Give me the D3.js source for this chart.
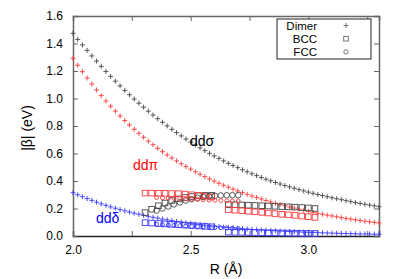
<!DOCTYPE html>
<html>
<head>
<meta charset="utf-8">
<script src="https://cdn.jsdelivr.net/npm/d3@7"></script>
<style>
  body { margin: 0; background: #fff; }
  svg { display: block; font-family: "Liberation Sans", Arial, sans-serif; }
</style>
</head>
<body>
<svg id="chart" width="399" height="279"></svg>
<script>
// dimer curves, step 0.02 A
const dimerR = [2.00, 2.02, 2.04, 2.06, 2.08, 2.10, 2.12, 2.14, 2.16, 2.18,
  2.20, 2.22, 2.24, 2.26, 2.28, 2.30, 2.32, 2.34, 2.36, 2.38,
  2.40, 2.42, 2.44, 2.46, 2.48, 2.50, 2.52, 2.54, 2.56, 2.58,
  2.60, 2.62, 2.64, 2.66, 2.68, 2.70, 2.72, 2.74, 2.76, 2.78,
  2.80, 2.82, 2.84, 2.86, 2.88, 2.90, 2.92, 2.94, 2.96, 2.98,
  3.00, 3.02, 3.04, 3.06, 3.08, 3.10, 3.12, 3.14, 3.16, 3.18,
  3.20, 3.22, 3.24, 3.26, 3.28, 3.30];
const dimerSigma = [1.474, 1.430, 1.390, 1.350, 1.310, 1.272, 1.234, 1.197, 1.161, 1.126,
  1.092, 1.059, 1.027, 0.996, 0.966, 0.937, 0.908, 0.880, 0.853, 0.827,
  0.801, 0.776, 0.752, 0.728, 0.705, 0.683, 0.662, 0.641, 0.621, 0.601,
  0.582, 0.564, 0.546, 0.529, 0.513, 0.497, 0.482, 0.467, 0.453, 0.439,
  0.426, 0.413, 0.401, 0.389, 0.378, 0.367, 0.357, 0.347, 0.337, 0.328,
  0.319, 0.310, 0.302, 0.294, 0.286, 0.278, 0.271, 0.264, 0.257, 0.250,
  0.243, 0.237, 0.231, 0.225, 0.219, 0.213];
const dimerPi = [1.292, 1.242, 1.195, 1.149, 1.105, 1.062, 1.021, 0.982, 0.944, 0.908,
  0.873, 0.840, 0.807, 0.776, 0.747, 0.718, 0.690, 0.664, 0.638, 0.613,
  0.590, 0.567, 0.546, 0.525, 0.505, 0.486, 0.467, 0.449, 0.432, 0.415,
  0.399, 0.384, 0.369, 0.355, 0.341, 0.328, 0.315, 0.303, 0.291, 0.280,
  0.269, 0.258, 0.248, 0.238, 0.229, 0.220, 0.211, 0.203, 0.195, 0.187,
  0.179, 0.172, 0.165, 0.158, 0.152, 0.146, 0.140, 0.134, 0.128, 0.123,
  0.118, 0.113, 0.108, 0.103, 0.099, 0.095];
const dimerDelta = [0.315, 0.300, 0.286, 0.272, 0.259, 0.246, 0.234, 0.223, 0.212, 0.202,
  0.192, 0.183, 0.174, 0.166, 0.158, 0.150, 0.143, 0.136, 0.130, 0.123,
  0.117, 0.112, 0.106, 0.101, 0.096, 0.092, 0.087, 0.083, 0.079, 0.075,
  0.072, 0.068, 0.065, 0.062, 0.059, 0.056, 0.053, 0.051, 0.048, 0.046,
  0.044, 0.042, 0.040, 0.038, 0.036, 0.034, 0.033, 0.031, 0.030, 0.028,
  0.027, 0.026, 0.024, 0.023, 0.022, 0.021, 0.020, 0.019, 0.018, 0.017,
  0.016, 0.015, 0.015, 0.014, 0.013, 0.013];

// BCC
const bccR = [2.306, 2.334, 2.363, 2.391, 2.419, 2.448, 2.476, 2.504, 2.533, 2.561, 2.589,
  2.660, 2.688, 2.717, 2.745, 2.773, 2.802, 2.830, 2.858, 2.887, 2.915, 2.943, 2.972, 3.000, 3.028];
const bccSigma = [0.170, 0.195, 0.220, 0.240, 0.258, 0.270, 0.280, 0.287, 0.292, 0.295, 0.296,
  0.228, 0.227, 0.226, 0.224, 0.222, 0.220, 0.218, 0.216, 0.214, 0.212, 0.210, 0.207, 0.204, 0.200];
const bccPi = [0.312, 0.312, 0.311, 0.310, 0.309, 0.308, 0.305, 0.300, 0.295, 0.290, 0.284,
  0.192, 0.188, 0.184, 0.180, 0.176, 0.172, 0.167, 0.163, 0.158, 0.154, 0.150, 0.145, 0.140, 0.135];
const bccDelta = [0.097, 0.094, 0.091, 0.088, 0.085, 0.082, 0.079, 0.076, 0.073, 0.070, 0.067,
  0.028, 0.027, 0.027, 0.026, 0.025, 0.024, 0.023, 0.023, 0.022, 0.021, 0.020, 0.019, 0.019, 0.018];

// FCC
const fccR = [2.355, 2.380, 2.405, 2.429, 2.454, 2.479, 2.504, 2.529, 2.553, 2.578,
  2.603, 2.628, 2.653, 2.677, 2.702];
const fccSigma = [0.185, 0.200, 0.215, 0.230, 0.245, 0.258, 0.268, 0.277, 0.284, 0.289,
  0.293, 0.295, 0.296, 0.297, 0.297];
const fccPi = [0.280, 0.278, 0.276, 0.274, 0.272, 0.270, 0.268, 0.266, 0.264, 0.262,
  0.260, 0.258, 0.256, 0.254, 0.252];
const fccDelta = [0.085, 0.082, 0.079, 0.077, 0.075, 0.072, 0.070, 0.068, 0.066, 0.064,
  0.062, 0.060, 0.058, 0.056, 0.054];

const xTicks = [2.0, 2.25, 2.5, 2.75, 3.0, 3.25];
const xLabels = [2.0, 2.5, 3.0];
const yTicks = [0, 0.2, 0.4, 0.6, 0.8, 1.0, 1.2, 1.4, 1.6];

const colBlack = "#474747", colRed = "#ff3a3a", colBlue = "#3a3aff";

const svg = d3.select("#chart");
const m = { left: 73, right: 379, top: 16, bottom: 236 };

const x = d3.scaleLinear().domain([2.0, 3.3]).range([m.left, m.right]);
const y = d3.scaleLinear().domain([0, 1.6]).range([m.bottom, m.top]);

// axes, ticks pointing inward
const fmt = d => xLabels.some(v => Math.abs(v - d) < 1e-9) ? d.toFixed(1) : "";
const gx = svg.append("g").attr("transform", `translate(0,${m.bottom})`)
  .call(d3.axisBottom(x).tickValues(xTicks).tickSize(-5).tickPadding(9).tickFormat(fmt));
const gxt = svg.append("g").attr("transform", `translate(0,${m.top})`)
  .call(d3.axisTop(x).tickValues(xTicks).tickSize(-5).tickFormat(""));
const gy = svg.append("g").attr("transform", `translate(${m.left},0)`)
  .call(d3.axisLeft(y).tickValues(yTicks).tickSize(-5).tickPadding(10).tickFormat(d3.format(".1f")));
const gyr = svg.append("g").attr("transform", `translate(${m.right},0)`)
  .call(d3.axisRight(y).tickValues(yTicks).tickSize(-5).tickFormat(""));

[gx, gxt, gy, gyr].forEach(g => {
  g.select(".domain").attr("stroke", "#666").attr("stroke-width", 1.5);
  g.selectAll(".tick line").attr("stroke", "#666");
  g.selectAll("text").attr("font-size", 12).attr("fill", "#000")
    .attr("font-family", "Liberation Sans, Arial, sans-serif");
});
gx.select(".domain").attr("stroke", "#222");

svg.append("text")
  .attr("x", (m.left + m.right) / 2).attr("y", 274)
  .attr("text-anchor", "middle").attr("font-size", 14)
  .text("R (Å)");

svg.append("text")
  .attr("transform", `translate(32,${(m.top + m.bottom) / 2 + 2}) rotate(-90)`)
  .attr("text-anchor", "middle").attr("font-size", 14)
  .text("|β| (eV)");

const plot = svg.append("g");

function plus(data, rs, color) {
  plot.append("g").selectAll("path")
    .data(data.map((v, i) => [rs[i], v]))
    .join("path")
    .attr("transform", d => `translate(${x(d[0])},${y(d[1])})`)
    .attr("d", "M-2.5,0H2.5M0,-2.5V2.5")
    .attr("stroke", color).attr("stroke-width", 0.9).attr("fill", "none");
}

function squares(data, rs, color) {
  plot.append("g").selectAll("rect")
    .data(data.map((v, i) => [rs[i], v]))
    .join("rect")
    .attr("x", d => x(d[0]) - 2.8).attr("y", d => y(d[1]) - 2.8)
    .attr("width", 5.6).attr("height", 5.6)
    .attr("stroke", color).attr("stroke-width", 0.9).attr("fill", "none");
}

function circles(data, rs, color, r) {
  plot.append("g").selectAll("circle")
    .data(data.map((v, i) => [rs[i], v]))
    .join("circle")
    .attr("cx", d => x(d[0])).attr("cy", d => y(d[1])).attr("r", r)
    .attr("stroke", color).attr("stroke-width", 0.9).attr("fill", "none");
}

plus(dimerSigma, dimerR, colBlack);
plus(dimerPi, dimerR, colRed);
plus(dimerDelta, dimerR, colBlue);
squares(bccSigma, bccR, colBlack);
squares(bccPi, bccR, colRed);
squares(bccDelta, bccR, colBlue);
circles(fccSigma, fccR, colBlack, 2.8);
circles(fccPi, fccR, colRed, 2);
circles(fccDelta, fccR, colBlue, 2);

// curve labels
svg.append("text").attr("x", 190).attr("y", 146).attr("font-size", 14)
  .attr("fill", "#000").text("ddσ");
svg.append("text").attr("x", 133).attr("y", 170).attr("font-size", 14)
  .attr("fill", "#ff0000").text("ddπ");
svg.append("text").attr("x", 96).attr("y", 223).attr("font-size", 14)
  .attr("fill", "#0000ff").text("ddδ");

// legend
const lg = svg.append("g");
lg.append("rect").attr("x", 277).attr("y", 19).attr("width", 94).attr("height", 40)
  .attr("fill", "#fff").attr("stroke", "#222").attr("stroke-width", 1);
const legendNames = ["Dimer", "BCC", "FCC"];
legendNames.forEach((name, i) => {
  const ly = 30 + i * 13.2;
  lg.append("text").attr("x", 317).attr("y", ly).attr("text-anchor", "end")
    .attr("font-size", 11.5).text(name);
  const cy = ly - 4.5, cx = 346;
  if (i === 0) {
    lg.append("path").attr("d", `M${cx - 2.5},${cy}H${cx + 2.5}M${cx},${cy - 2.5}V${cy + 2.5}`)
      .attr("stroke", "#777").attr("fill", "none");
  } else if (i === 1) {
    lg.append("rect").attr("x", cx - 2.3).attr("y", cy - 2.3).attr("width", 4.6).attr("height", 4.6)
      .attr("stroke", "#777").attr("fill", "none");
  } else {
    lg.append("circle").attr("cx", cx).attr("cy", cy).attr("r", 2.2)
      .attr("stroke", "#777").attr("fill", "none");
  }
});
</script>
</body>
</html>
